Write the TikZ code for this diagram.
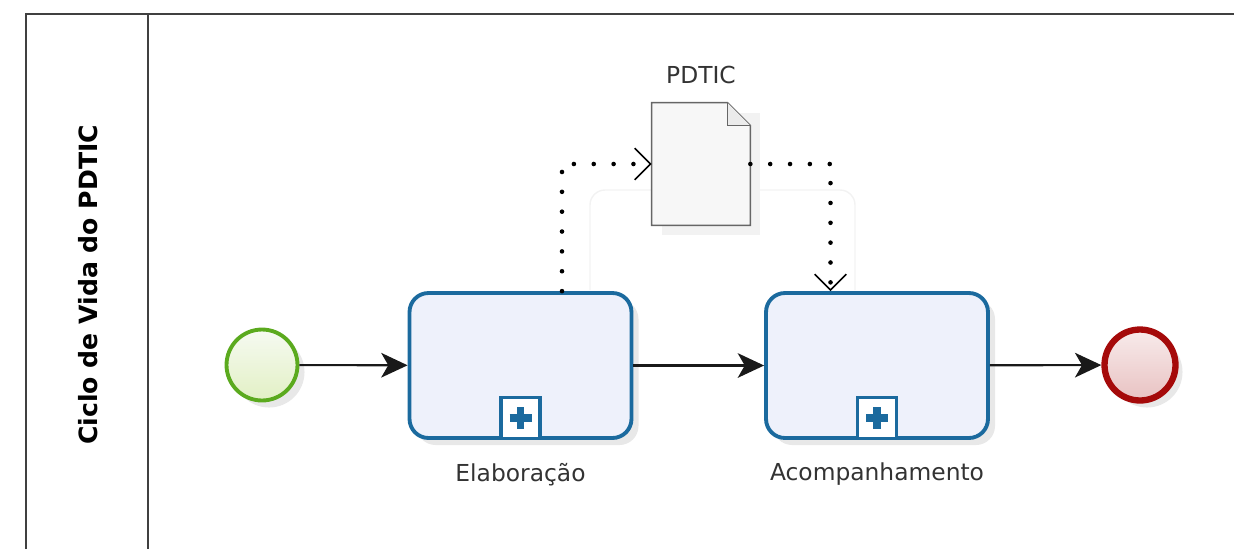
\documentclass[tikz,border=0pt]{standalone}
\usepackage{fontspec}
\setsansfont{DejaVu Sans}
\usepackage{xcolor}
\usepackage{tikz}
\usetikzlibrary{arrows.meta,calc,positioning,shadows}

\definecolor{taskblue}{HTML}{1B6A9E}
\definecolor{taskfill}{HTML}{EEF1FB}
\definecolor{startgreen}{HTML}{5BAA1E}
\definecolor{endred}{HTML}{A50A0A}
\definecolor{labelgray}{HTML}{333333}

\begin{document}
\begin{tikzpicture}[x=0.02cm,y=-0.02cm,font=\sffamily,
  shade/.style={drop shadow={opacity=0.18,shadow xshift=4pt,shadow yshift=-4pt}},
  task/.style={rectangle,rounded corners=0.38cm,draw=taskblue,line width=2.2pt,fill=taskfill,
    minimum width=4.44cm,minimum height=2.9cm,shade},
  marker/.style={rectangle,draw=taskblue,line width=1.8pt,fill=white,minimum width=0.78cm,minimum height=0.82cm,inner sep=0pt},
  event/.style={circle,minimum size=1.42cm,inner sep=0pt,shade},
  flow/.style={line width=1.2pt,black!90,-{Stealth[length=15pt,width=14pt,inset=4pt]}},
  assoc/.style={line width=2.6pt,line cap=round,dash pattern=on 0pt off 11.3pt,
    -{Straight Barb[length=9pt,width=18pt,line width=0.9pt,line cap=butt]}},
  tasklabel/.style={font=\sffamily\fontsize{13.3}{15}\selectfont,text=labelgray}]
  \useasboundingbox (0,0) rectangle (1234,549);
  % pool and lane header
  \draw[line width=1.1pt,black!75] (26,549) -- (26,14) -- (1234,14);
  \draw[line width=1.1pt,black!75] (148,14) -- (148,549);
  \node[rotate=90,font=\sffamily\bfseries\fontsize{14.3}{16}\selectfont] (lanename) at (88,285) {Ciclo de Vida do PDTIC};
  % faint frame behind the data object
  \draw[black!5,line width=0.8pt,rounded corners=0.3cm] (590,290) -- (590,190) -- (855,190) -- (855,290);
  % events and tasks
  \node[event,draw=startgreen,line width=2.2pt,top color=yellow!4!startgreen!6,bottom color=yellow!30!startgreen!25] (start) at (262,365) {};
  \node[task] (elab) at (520.5,365.5) {};
  \node[task] (acomp) at (877,365.5) {};
  \node[event,draw=endred,line width=3.6pt,top color=endred!8,bottom color=endred!25] (end) at (1140,365) {};
  \node[marker,above=0pt of elab.south] (elabmark) {};
  \node[marker,above=0pt of acomp.south] (acompmark) {};
  \foreach \m in {elabmark,acompmark}{
    \draw[taskblue,line width=4.2pt] ([xshift=-0.22cm]\m.center) -- ([xshift=0.22cm]\m.center);
    \draw[taskblue,line width=4.2pt] ([yshift=-0.22cm]\m.center) -- ([yshift=0.22cm]\m.center);
  }
  \node[tasklabel,below=0.34cm of elab.south] (elablabel) {Elaboração};
  \node[tasklabel,below=0.34cm of acomp.south] (acomplabel) {Acompanhamento};
  % data object
  \node[minimum width=1.96cm,minimum height=2.44cm,inner sep=0pt] (doc) at (701,164) {};
  \fill[black!5] ($(doc.south west)+(10,10)$) rectangle ($(doc.north east)+(10,10)$);
  \draw[black!60,line width=0.9pt,fill=black!3]
    (doc.south west) -- (doc.north west) -- ($(doc.north east)+(-0.46cm,0)$)
    -- ($(doc.north east)+(0,-0.46cm)$) -- (doc.south east) -- cycle;
  \draw[black!60,line width=0.9pt,fill=black!8]
    ($(doc.north east)+(-0.46cm,0)$) -- ($(doc.north east)+(-0.46cm,-0.46cm)$) -- ($(doc.north east)+(0,-0.46cm)$);
  \node[tasklabel,above=0.26cm of doc.north] (doclabel) {PDTIC};
  % sequence flows
  \draw[flow] (start) -- (elab);
  \draw[flow] (elab) -- (acomp);
  \draw[flow] (acomp) -- (end);
  % associations
  \draw[assoc] ([xshift=0.83cm]elab.north) |- (doc.west);
  \draw[assoc] (doc.east) -| ([xshift=-0.93cm]acomp.north);
\end{tikzpicture}
\end{document}
